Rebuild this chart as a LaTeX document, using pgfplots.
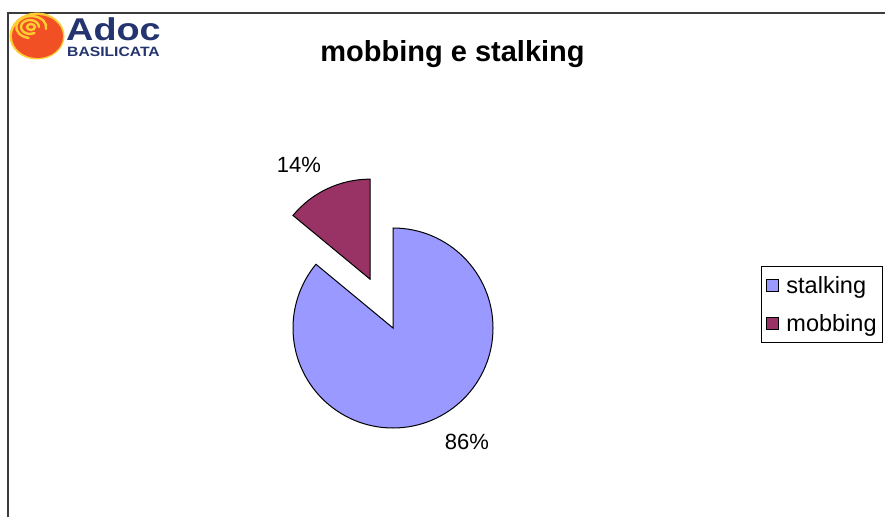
\documentclass[border=0pt]{standalone}
\usepackage{pgfplots}
\usepackage{pgfplotstable}
\pgfplotsset{compat=1.18}
\usepackage{fontspec}
\setmainfont{Liberation Sans}
\definecolor{stalk}{RGB}{153,153,255}
\definecolor{mob}{RGB}{153,51,102}
\definecolor{frame}{RGB}{60,60,60}
\definecolor{navy}{RGB}{35,52,110}
\definecolor{ballred}{RGB}{240,80,35}
\definecolor{ballyel}{RGB}{255,204,51}
\pgfplotstableread{
label value
stalking 86
mobbing 14
}\piedata
\begin{document}
\begin{tikzpicture}[x=1pt,y=1pt]
\useasboundingbox (0,0) rectangle (885,517);
% frame
\draw[line width=1.3pt, frame] (8,0) -- (8,504) -- (885,504);
% logo
\fill[white] (9,458) rectangle (165,503.3);
\fill[ballyel] (37,481) ellipse [x radius=27.5, y radius=23.5];
\fill[ballred] (37.5,480.5) ellipse [x radius=25.5, y radius=21.5];
\begin{scope}[ballyel, line width=2.4pt, line cap=round]
\draw (31,490) circle [x radius=4, y radius=3];
\draw (39,490) arc[start angle=0, end angle=300, x radius=9, y radius=7];
\draw (46,488) arc[start angle=-10, end angle=260, x radius=15, y radius=11];
\end{scope}
\node[anchor=base west, inner sep=0pt, text=navy, font=\fontsize{31.5}{32}\selectfont\bfseries, xscale=1.2] at (66,476.5) {Adoc};
\node[anchor=base west, inner sep=0pt, text=navy, font=\fontsize{13.5}{14}\selectfont\bfseries, xscale=1.16] at (67,460) {BASILICATA};
% title
\node[anchor=base, inner sep=0pt, font=\fontsize{29}{32}\selectfont\bfseries] at (452.5,455) {mobbing e stalking};
\pgfplotstablegetelem{0}{value}\of\piedata \let\vA\pgfplotsretval
\pgfplotstablegetelem{1}{value}\of\piedata \let\vB\pgfplotsretval
\pgfmathsetmacro\total{\vA+\vB}
\pgfmathsetmacro\endA{90-\vA/\total*360}
\pgfmathsetmacro\endB{\endA+360}
\pgfmathsetmacro\midB{(90+\endB)/2}
\pgfmathsetmacro\dx{0.54*cos(\midB)}
\pgfmathsetmacro\dy{0.54*sin(\midB)}
\pgfmathsetmacro\dyTop{\dy+1}
\begin{axis}[
  at={(293,89)}, anchor=south west,
  scale only axis, width=200pt, height=200pt,
  xmin=-1, xmax=1, ymin=-1, ymax=1,
  hide axis, clip=false,
  legend image code/.code={\draw[#1, line width=0.9pt] (2pt,-6pt) rectangle (14pt,6pt); \path (20pt,0pt);},
  legend style={at={(2.34,0.81)}, anchor=north west, draw=black, line width=1pt,
    font=\fontsize{23.5}{25}\selectfont, inner xsep=4pt, inner ysep=8pt, row sep=15pt},
  legend cell align=left,
]
\fill[stalk, draw=black, line width=1pt] (axis cs:0,0) -- (axis cs:0,1) arc[start angle=90, end angle=\endA, radius=100pt] -- cycle;
\fill[mob, draw=black, line width=1pt] (axis cs:\dx,\dy) -- (axis cs:\dx,\dyTop) arc[start angle=90, end angle=\endB, radius=100pt] -- cycle;
\node[font=\fontsize{22}{24}\selectfont] at (axis cs:-0.94,1.63) {\vB\%};
\node[font=\fontsize{22}{24}\selectfont] at (axis cs:0.74,-1.14) {\vA\%};
\addlegendimage{fill=stalk, draw=black}
\addlegendentry{stalking}
\addlegendimage{fill=mob, draw=black}
\addlegendentry{mobbing}
\end{axis}
\end{tikzpicture}
\end{document}
